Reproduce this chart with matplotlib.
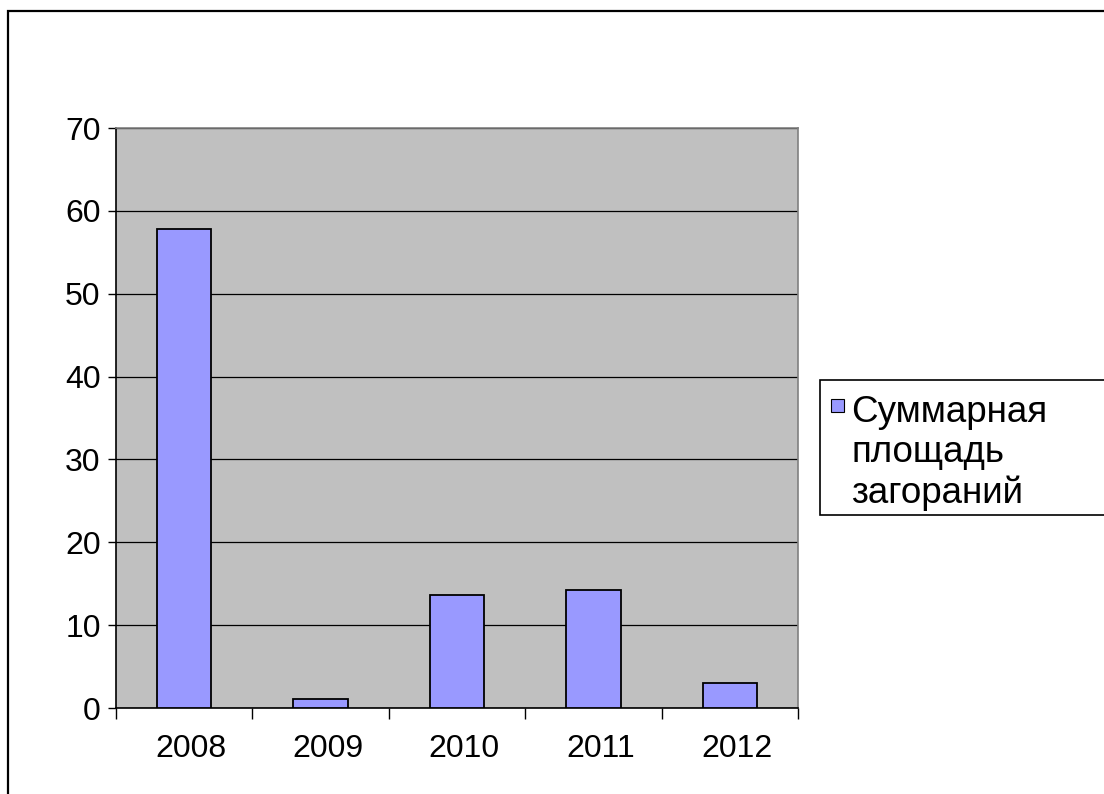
import matplotlib
matplotlib.use("Agg")
import matplotlib.pyplot as plt
from matplotlib.patches import Rectangle
from matplotlib.transforms import ScaledTranslation

years = ["2008", "2009", "2010", "2011", "2012"]
values = [57.8, 1.1, 13.6, 14.3, 3.0]
legend_label = "Суммарная\nплощадь\nзагораний"
y_ticks = [0, 10, 20, 30, 40, 50, 60, 70]

plt.rcParams['font.family'] = ['Liberation Sans', 'DejaVu Sans']

W, H = 1104, 794
fig = plt.figure(figsize=(W / 100, H / 100), dpi=100)
ax = fig.add_axes([116 / W, 1 - 708 / H, 682 / W, 580 / H])
ax.set_facecolor("#C0C0C0")

x = list(range(len(years)))
ax.bar(x, values, width=0.4, color="#9999FF", edgecolor="black", linewidth=1.3, zorder=3)

ax.set_xlim(-0.5, len(years) - 0.5)
ax.set_ylim(0, 70)
ax.set_yticks(y_ticks)
ax.set_yticklabels([str(v) for v in y_ticks])
ax.yaxis.grid(True, color="black", linewidth=0.9, zorder=1)
ax.set_axisbelow(True)

ax.set_xticks(x)
ax.set_xticklabels(years)
ax.set_xticks([i - 0.5 for i in range(len(years) + 1)], minor=True)
ax.tick_params(axis="x", which="major", length=0, pad=19, labelsize=23)
ax.tick_params(axis="x", which="minor", length=8, width=1, direction="out", color="black")
ax.tick_params(axis="y", which="major", length=6, width=1, direction="out", pad=5, labelsize=23)

shift = ScaledTranslation(7 / 100, 0, fig.dpi_scale_trans)
for lbl in ax.get_xticklabels():
    lbl.set_transform(lbl.get_transform() + shift)

for side in ("top", "right"):
    ax.spines[side].set_color("#808080")
    ax.spines[side].set_linewidth(1.2)
for side in ("left", "bottom"):
    ax.spines[side].set_color("black")
    ax.spines[side].set_linewidth(1.2)

# figure frame (cut off at right/bottom)
fig.patches.append(Rectangle((8 / W, -0.05), 1.2, 1 - 11 / H + 0.05, transform=fig.transFigure,
                             fill=False, edgecolor="black", linewidth=1.6, zorder=0))

# legend box
lx0, ly_top, ly_bot = 820, 380, 515
fig.patches.append(Rectangle((lx0 / W, 1 - ly_bot / H), 1.1, (ly_bot - ly_top) / H,
                             transform=fig.transFigure, facecolor="white",
                             edgecolor="black", linewidth=1.2, zorder=1))
fig.patches.append(Rectangle((831 / W, 1 - 412 / H), 13 / W, 13 / H,
                             transform=fig.transFigure, facecolor="#9999FF",
                             edgecolor="black", linewidth=0.8, zorder=2))
fig.text(851 / W, 1 - 395 / H, legend_label, fontsize=26.5, va="top", ha="left",
         linespacing=1.2, zorder=3)

fig.savefig("out.png", dpi=100)
